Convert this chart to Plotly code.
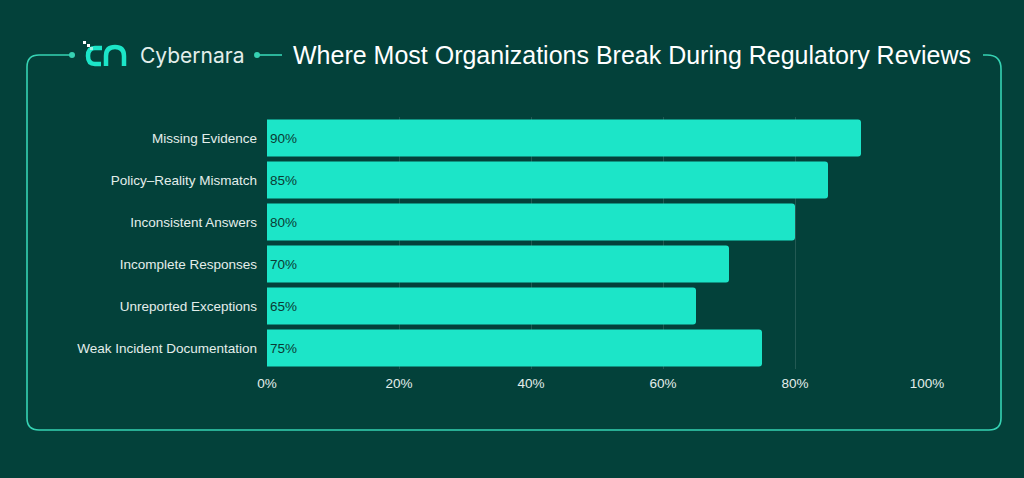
import plotly.graph_objects as go

categories = ["Missing Evidence", "Policy\u2013Reality Mismatch", "Inconsistent Answers",
              "Incomplete Responses", "Unreported Exceptions", "Weak Incident Documentation"]
values = [90, 85, 80, 70, 65, 75]
tick_vals = [0, 20, 40, 60, 80, 100]
tick_text = ["0%", "20%", "40%", "60%", "80%", "100%"]

W, H = 1024, 478
L, R, T, B = 267, 97, 117, 109
BG = "#03413a"
BAR = "#1ce5c8"
LINE = "#36d2b3"
FONT = "Liberation Sans"


# pixel -> paper coords helpers
def px(x):
    return (x - L) / (W - L - R)


def py(y):
    return 1 - (y - T) / (H - T - B)


def path(points):
    out = []
    for p in points:
        cmd = p[0]
        nums = p[1:]
        parts = []
        for i in range(0, len(nums), 2):
            parts.append("%.5f,%.5f" % (px(nums[i]), py(nums[i + 1])))
        out.append(cmd + " " + " ".join(parts))
    return " ".join(out)


fig = go.Figure(go.Bar(
    x=values, y=categories, orientation="h",
    marker=dict(color=BAR, line=dict(width=0)),
    text=[f"{v}%" for v in values],
    textposition="inside", insidetextanchor="start",
    textfont=dict(color="#0b3b34", size=13.5, family=FONT),
    width=0.88,
    hoverinfo="skip",
))

shapes = []
# frame
frame = path([("M", 72, 55), ("L", 39, 55), ("Q", 27, 55, 27, 67), ("L", 27, 418),
              ("Q", 27, 430, 39, 430), ("L", 989, 430), ("Q", 1001, 430, 1001, 418),
              ("L", 1001, 69), ("Q", 1001, 55, 987, 55), ("L", 983, 55)])
shapes.append(dict(type="path", xref="paper", yref="paper", path=frame,
                   line=dict(color=LINE, width=1.6)))
shapes.append(dict(type="path", xref="paper", yref="paper",
                   path=path([("M", 257, 55), ("L", 282, 55)]),
                   line=dict(color=LINE, width=1.6)))
for cx in (72, 257):
    shapes.append(dict(type="circle", xref="paper", yref="paper",
                       x0=px(cx - 3), x1=px(cx + 3), y0=py(58), y1=py(52),
                       fillcolor=LINE, line=dict(width=0)))
# logo
shapes.append(dict(type="path", xref="paper", yref="paper",
                   path=path([("M", 102, 48), ("L", 95, 48), ("Q", 88, 48, 88, 56),
                              ("Q", 88, 64, 95, 64), ("L", 101, 64)]),
                   line=dict(color=BAR, width=4.5)))
shapes.append(dict(type="path", xref="paper", yref="paper",
                   path=path([("M", 106, 66), ("L", 106, 56), ("Q", 106, 47, 115, 47),
                              ("Q", 124, 47, 124, 56), ("L", 124, 66)]),
                   line=dict(color=BAR, width=4.5)))
for (dx, dy, c) in [(83, 41, "#ffffff"), (87, 44, "#ffffff"), (90, 47, "#9ff3e3")]:
    shapes.append(dict(type="rect", xref="paper", yref="paper",
                       x0=px(dx), x1=px(dx + 3), y0=py(dy + 3), y1=py(dy),
                       fillcolor=c, line=dict(width=0)))

annotations = [
    dict(text="Cybernara", x=px(138), y=py(56), xref="paper", yref="paper",
         xanchor="left", yanchor="middle", showarrow=False,
         font=dict(color="#e3eeeb", size=21, family="Inter")),
    dict(text="Where Most Organizations Break During Regulatory Reviews",
         x=px(291), y=py(55), xref="paper", yref="paper",
         xanchor="left", yanchor="middle", showarrow=False,
         font=dict(color="#ffffff", size=25, family=FONT)),
]

fig.update_layout(
    width=W, height=H,
    margin=dict(l=L, r=R, t=T, b=B, pad=0),
    paper_bgcolor=BG, plot_bgcolor=BG,
    showlegend=False,
    barcornerradius=3,
    shapes=shapes,
    annotations=annotations,
    font=dict(family=FONT, color="#e3eeeb", size=13.5),
    xaxis=dict(range=[0, 100], tickvals=tick_vals, ticktext=tick_text,
               showgrid=True, gridcolor="rgba(255,255,255,0.13)", gridwidth=1,
               zeroline=False, showline=False, ticks="", ticklabelstandoff=4,
               tickfont=dict(size=13.5, color="#e3eeeb")),
    yaxis=dict(autorange="reversed", showgrid=False, zeroline=False, showline=False,
               ticks="", ticklabelstandoff=9,
               tickfont=dict(size=13.5, color="#e3eeeb")),
)

fig.write_html("out.html", config={"displayModeBar": False},
               post_script="document.body.style.margin='0';")
